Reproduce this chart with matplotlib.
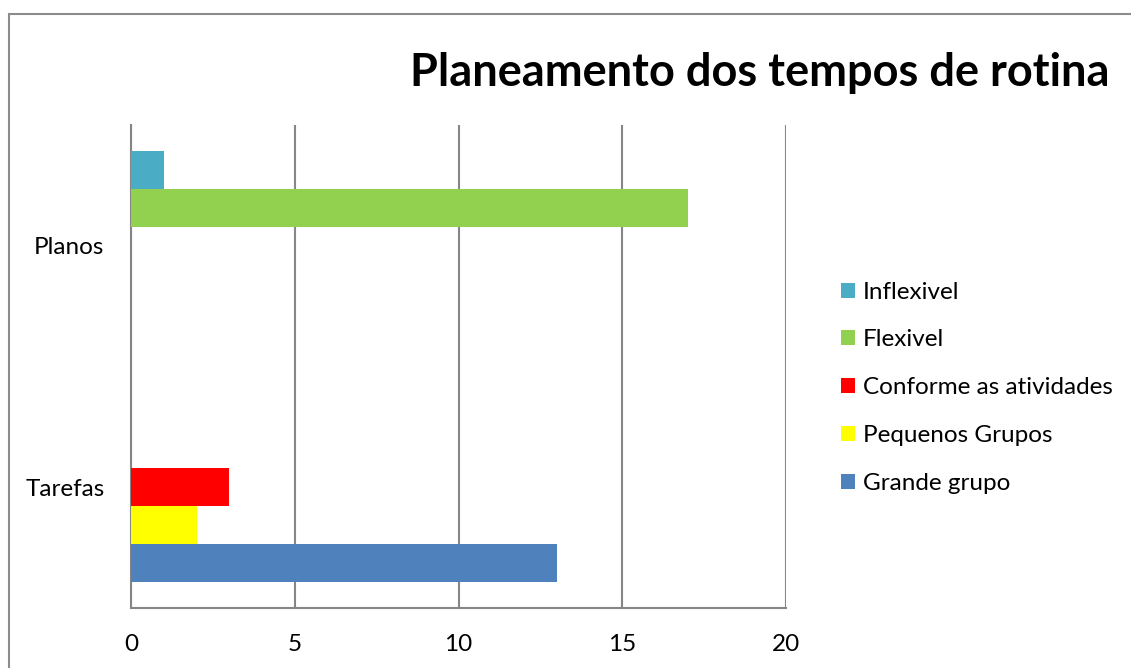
import matplotlib.pyplot as plt
from matplotlib.patches import Rectangle, Patch
import numpy as np

plt.rcParams.update({
    "font.family": ["Lato", "DejaVu Sans"],
    "font.size": 17.5,
})

categories = ["Tarefas", "Planos"]
series_names = ["Grande grupo", "Pequenos Grupos", "Conforme as atividades", "Flexivel", "Inflexivel"]
grande_grupo = [13, 0]
pequenos_grupos = [2, 0]
conforme = [3, 0]
flexivel = [0, 17]
inflexivel = [0, 1]
colors = ["#4F81BD", "#FFFF00", "#FF0000", "#92D050", "#4BACC6"]

fig = plt.figure(figsize=(11.31, 6.68), dpi=100)
fig.patches.append(Rectangle((9 / 1131, -0.1), 1.2, (668 - 14) / 668 + 0.1,
                             transform=fig.transFigure, fill=False,
                             edgecolor="#8c8c8c", linewidth=1.5))

ax = fig.add_axes([131 / 1131, 60 / 668, 655 / 1131, 483 / 668])

y = np.arange(len(categories))
h = 0.157
values = [grande_grupo, pequenos_grupos, conforme, flexivel, inflexivel]
for i, (name, vals, c) in enumerate(zip(series_names, values, colors)):
    ax.barh(y + (i - 2) * h, vals, height=h, color=c, label=name, zorder=3)

ax.set_xlim(0, 20)
ax.set_ylim(-0.5, 1.5)
ax.set_xticks([0, 5, 10, 15, 20])
ax.set_yticks(y)
ax.set_yticklabels(categories)
ax.xaxis.grid(True, color="#868686", linewidth=1.5, zorder=0)
for s in ["top", "right"]:
    ax.spines[s].set_visible(False)
for s in ["left", "bottom"]:
    ax.spines[s].set_color("#868686")
    ax.spines[s].set_linewidth(1.5)
ax.tick_params(axis="x", length=0, pad=19)
ax.tick_params(axis="y", length=0, pad=19)

fig.text(1110 / 1131, 1 - 73 / 668, "Planeamento dos tempos de rotina",
         ha="right", va="center", fontsize=32.5, fontweight="bold")

handles = [Patch(facecolor=c, edgecolor="none") for c in colors][::-1]
fig.legend(handles, series_names[::-1], loc="upper left",
           bbox_to_anchor=(831 / 1131, 1 - 272 / 668), frameon=False,
           handlelength=0.58, handleheight=0.58, handletextpad=0.33,
           labelspacing=1.1, borderaxespad=0)

fig.savefig("out.png", dpi=100, facecolor="white")
